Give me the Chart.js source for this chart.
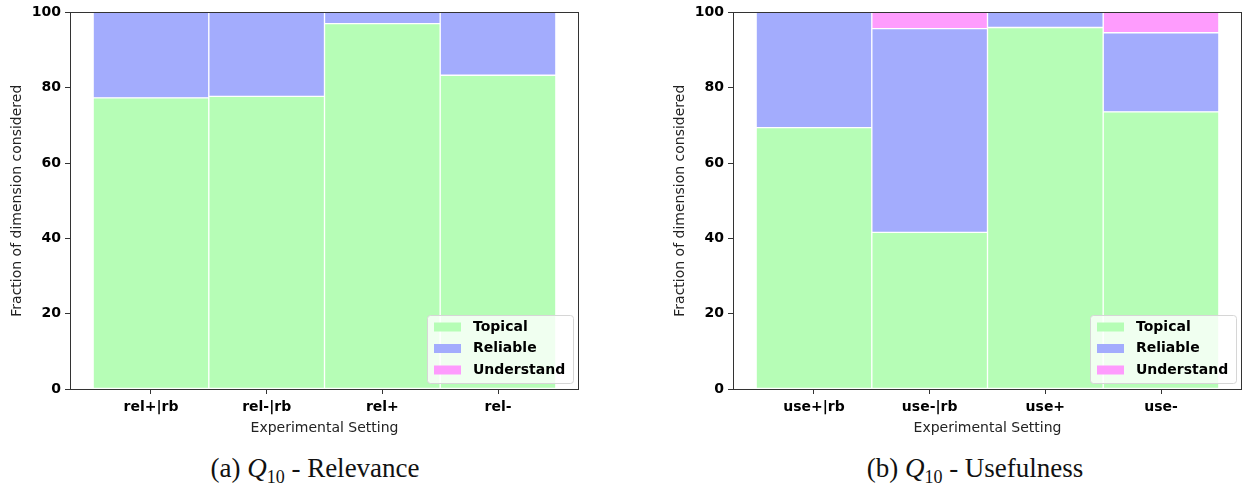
<!DOCTYPE html>
<html>
<head>
<meta charset="utf-8">
<script src="https://cdn.jsdelivr.net/npm/chart.js@4/dist/chart.umd.min.js"></script>
<style>
  body { margin: 0; background: #fff; }
  #wrap { position: relative; width: 1245px; height: 486px; overflow: hidden; }
  .box { position: absolute; top: 0; height: 445px; }
  .caption {
    position: absolute; top: 453px; width: 400px; text-align: center;
    font-family: "Liberation Serif", "DejaVu Serif", serif; font-size: 27px; color: #111;
  }
  .caption i { font-style: italic; }
  .caption sub { font-size: 18px; vertical-align: -6px; line-height: 0; }
</style>
</head>
<body>
<div id="wrap">
  <div class="box" style="left:0; width:600px;"><canvas id="relChart"></canvas></div>
  <div class="box" style="left:663px; width:582px;"><canvas id="useChart"></canvas></div>
  <div class="caption" style="left:115px;">(a) <i>Q</i><sub>10</sub> - Relevance</div>
  <div class="caption" style="left:775px;">(b) <i>Q</i><sub>10</sub> - Usefulness</div>
</div>
<script>
// data (percent of dimension considered)
const relLabels = ['rel+|rb', 'rel-|rb', 'rel+', 'rel-'];
const relTopical = [77.3, 77.7, 97.0, 83.3];
const relReliable = [22.7, 22.3, 3.0, 16.7];
const relUnderstand = [0, 0, 0, 0];

const useLabels = ['use+|rb', 'use-|rb', 'use+', 'use-'];
const useTopical = [69.4, 41.6, 96.0, 73.6];
const useReliable = [30.6, 54.1, 4.0, 21.0];
const useUnderstand = [0, 4.3, 0, 5.4];

const seriesNames = ['Topical', 'Reliable', 'Understand'];
const seriesColours = ['#b6fdb6', '#a3acfd', '#fe9cfd'];

const yTicks = [0, 20, 40, 60, 80, 100];

const tickFont = { family: 'DejaVu Sans', size: 14, weight: 'bold' };
const titleFont = { family: 'DejaVu Sans', size: 14 };

// frame round the plot plus the legend in the lower right corner
const frameAndLegend = {
    id: 'frameAndLegend',
    afterDraw(chart) {
        const ctx = chart.ctx;
        const a = chart.chartArea;
        ctx.save();
        ctx.strokeStyle = '#333';
        ctx.lineWidth = 1;
        ctx.strokeRect(Math.round(a.left) + 0.5, Math.round(a.top) + 0.5,
            Math.round(a.right - a.left) - 1, Math.round(a.bottom - a.top));

        const w = 146, h = 68;
        const x = a.right - 6 - w, y = a.bottom - 6 - h;
        ctx.fillStyle = 'rgba(255,255,255,0.8)';
        ctx.strokeStyle = '#d6d6d6';
        ctx.beginPath();
        ctx.roundRect(x + 0.5, y + 0.5, w, h, 3);
        ctx.fill();
        ctx.stroke();

        ctx.font = 'bold 14px "DejaVu Sans"';
        ctx.textBaseline = 'middle';
        chart.data.datasets.forEach(function(ds, i) {
            const cy = y + 12 + i * 21.5;
            ctx.fillStyle = ds.backgroundColor;
            ctx.fillRect(x + 7, cy - 4.5, 27, 9);
            ctx.fillStyle = '#000';
            ctx.fillText(ds.label, x + 46, cy);
        });
        ctx.restore();
    }
};

function makeChart(id, labels, topical, reliable, understand, padRight) {
    const values = [topical, reliable, understand];
    const datasets = [];
    for (var s = 0; s < values.length; s++) {
        datasets.push({
            label: seriesNames[s],
            data: values[s].map(function(v, i) { return { x: i, y: v }; }),
            backgroundColor: seriesColours[s],
            borderColor: '#ffffff',
            borderWidth: 1,
            borderSkipped: false,
            barPercentage: 1,
            categoryPercentage: 1
        });
    }

    return new Chart(document.getElementById(id), {
        type: 'bar',
        data: { datasets: datasets },
        plugins: [frameAndLegend],
        options: {
            responsive: true,
            maintainAspectRatio: false,
            animation: false,
            layout: { padding: { top: 11, right: padRight, left: 0, bottom: 0 } },
            plugins: { legend: { display: false }, tooltip: { enabled: false } },
            scales: {
                x: {
                    type: 'linear',
                    stacked: true,
                    offset: false,
                    min: -0.7,
                    max: 3.7,
                    afterBuildTicks: function(scale) {
                        scale.ticks = labels.map(function(_, i) { return { value: i }; });
                    },
                    afterFit: function(scale) { scale.height = 56; },
                    ticks: {
                        autoSkip: false,
                        maxRotation: 0,
                        padding: 5,
                        color: '#000',
                        font: tickFont,
                        callback: function(v) { return labels[v]; }
                    },
                    grid: { offset: false, drawOnChartArea: false, drawTicks: true, tickLength: 5, color: '#333' },
                    border: { display: false },
                    title: {
                        display: true,
                        text: 'Experimental Setting',
                        color: '#222',
                        font: titleFont,
                        padding: { top: 0, bottom: 8 }
                    }
                },
                y: {
                    stacked: true,
                    min: 0,
                    max: 100,
                    afterBuildTicks: function(scale) {
                        scale.ticks = yTicks.map(function(v) { return { value: v }; });
                    },
                    afterFit: function(scale) { scale.width = 70; },
                    ticks: { padding: 4, color: '#000', font: tickFont },
                    grid: { drawOnChartArea: false, drawTicks: true, tickLength: 5, color: '#333' },
                    border: { display: false },
                    title: {
                        display: true,
                        text: 'Fraction of dimension considered',
                        color: '#222',
                        font: titleFont,
                        padding: { top: 9, bottom: 0 }
                    }
                }
            }
        }
    });
}

makeChart('relChart', relLabels, relTopical, relReliable, relUnderstand, 21);
makeChart('useChart', useLabels, useTopical, useReliable, useUnderstand, 3);
</script>
</body>
</html>
